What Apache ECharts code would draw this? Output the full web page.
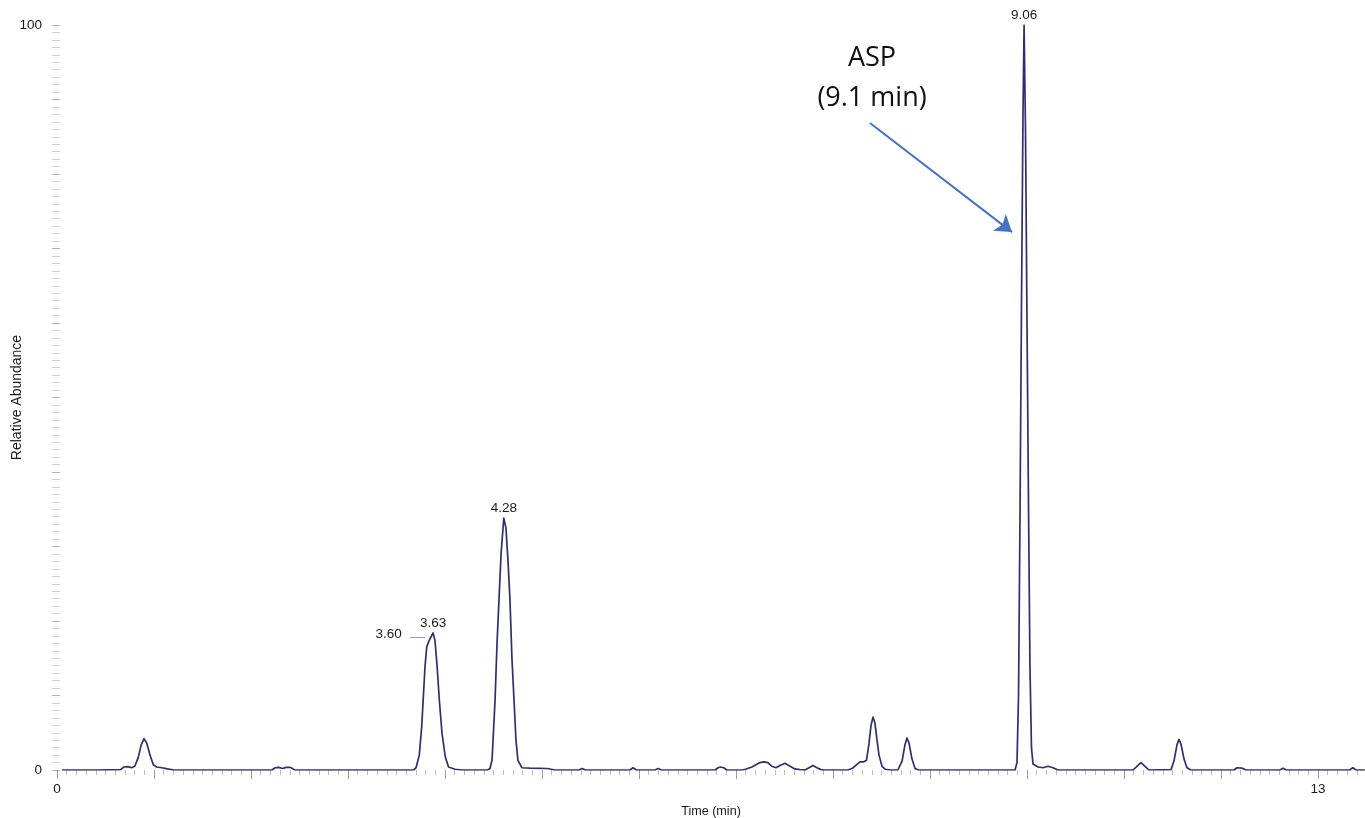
<!DOCTYPE html>
<html>
<head>
<meta charset="utf-8">
<title>Chromatogram</title>
<script src="https://cdn.jsdelivr.net/npm/echarts@6/dist/echarts.min.js"></script>
<style>
  html, body { margin: 0; padding: 0; background: #ffffff; }
  #main { width: 1365px; height: 818px; }
</style>
</head>
<body>
<div id="main"></div>
<script>
// Chromatogram trace: [retention time (min), relative abundance (%)]
const trace = [
  [0.221, 0], [0.55, 0], [0.76, 0.05], [0.79, 0.4], [0.83, 0.45], [0.86, 0.3], [0.89, 0.5],
  [0.92, 1.6], [0.95, 3.4], [0.975, 4.2], [1.00, 3.6], [1.03, 2.0], [1.06, 0.7], [1.09, 0.4],
  [1.14, 0.3], [1.19, 0.15], [1.25, 0],
  [2.15, 0], [2.18, 0.3], [2.21, 0.35], [2.25, 0.2], [2.28, 0.35], [2.32, 0.35], [2.36, 0],
  [3.45, 0], [3.474, 0.3], [3.504, 2.0], [3.526, 5.8], [3.541, 9.8], [3.556, 13.8], [3.572, 16.5],
  [3.595, 17.4], [3.63, 18.4], [3.648, 17.4], [3.668, 13.8], [3.688, 9.4], [3.712, 5.0],
  [3.742, 1.8], [3.772, 0.4], [3.832, 0.1], [3.9, 0],
  [4.13, 0], [4.153, 0.2], [4.172, 1.3], [4.20, 9.4], [4.218, 17], [4.236, 22.8], [4.255, 29],
  [4.28, 33.8], [4.30, 32.5], [4.319, 28], [4.337, 22.8], [4.355, 15], [4.374, 9.4], [4.392, 4],
  [4.41, 1.3], [4.447, 0.3], [4.52, 0.25], [4.68, 0.2], [4.75, 0],
  [4.97, 0], [5.0, 0.2], [5.03, 0], [5.44, 0], [5.467, 0.3], [5.50, 0], [5.67, 0], [5.697, 0.2], [5.73, 0],
  [6.22, 0], [6.25, 0.3], [6.27, 0.4], [6.30, 0.3], [6.33, 0],
  [6.47, 0], [6.50, 0.1], [6.56, 0.4], [6.634, 1.0], [6.67, 1.1], [6.707, 1.0], [6.743, 0.5],
  [6.78, 0.3], [6.817, 0.6], [6.864, 0.9], [6.91, 0.5], [6.955, 0.15], [7.0, 0.05],
  [7.047, 0], [7.084, 0.3], [7.121, 0.6], [7.157, 0.3], [7.194, 0.05], [7.23, 0],
  [7.44, 0], [7.48, 0.2], [7.52, 0.7], [7.552, 1.1], [7.589, 1.1], [7.612, 1.3], [7.635, 3.5],
  [7.654, 6.0], [7.672, 7.1], [7.69, 6.3], [7.709, 4.0], [7.727, 2.0], [7.755, 0.5], [7.785, 0.1], [7.83, 0],
  [7.90, 0], [7.912, 0.1], [7.939, 1.2], [7.966, 3.4], [7.984, 4.3], [8.003, 3.6], [8.03, 1.5],
  [8.058, 0.2], [8.09, 0],
  [8.977, 0], [8.995, 1.0], [9.009, 10], [9.023, 35], [9.036, 62], [9.05, 88], [9.06, 100],
  [9.073, 86], [9.087, 60], [9.101, 35], [9.114, 14], [9.128, 3], [9.142, 0.8], [9.188, 0.4],
  [9.234, 0.3], [9.28, 0.5], [9.326, 0.3], [9.372, 0],
  [10.06, 0], [10.097, 0.5], [10.134, 1.0], [10.171, 0.5], [10.207, 0],
  [10.41, 0.05], [10.437, 1.2], [10.465, 3.4], [10.483, 4.1], [10.501, 3.5], [10.529, 1.5],
  [10.556, 0.3], [10.593, 0],
  [10.989, 0], [11.016, 0.3], [11.034, 0.4], [11.062, 0.25], [11.098, 0],
  [11.41, 0], [11.44, 0.25], [11.47, 0],
  [12.05, 0], [12.08, 0.3], [12.11, 0], [12.19, 0]
];

// Labelled peaks (retention time, apex abundance)
const peakTimes = [3.63, 4.28, 9.06];
const peakHeights = [18.4, 33.8, 100];
// Shoulder label drawn to the left with a short leader
const shoulderTime = 3.60;
const shoulderHeight = 17.85;

// Axis tick labels that are printed
const xTickLabels = [0, 13];
const yTickLabels = [0, 100];

// Callout for the analyte
const calloutText = 'ASP\n(9.1 min)';
const calloutAt = [7.663, 92.9];
const arrowFrom = [7.644, 86.85];
const arrowTo = [8.949, 72.2];

const labelFont = 'Liberation Sans, Arial, sans-serif';

const peakMarks = peakTimes.map((t, i) => ({
  coord: [t, peakHeights[i]],
  symbol: 'circle',
  symbolSize: 0,
  label: {
    show: true,
    position: 'top',
    distance: 3,
    formatter: t.toFixed(2),
    color: '#1a1a1a',
    fontSize: 13.5,
    fontFamily: labelFont
  }
}));

peakMarks.push({
  coord: [shoulderTime, shoulderHeight],
  symbol: 'circle',
  symbolSize: 0,
  label: {
    show: true,
    position: 'left',
    distance: 28,
    offset: [0, -3],
    formatter: shoulderTime.toFixed(2),
    color: '#1a1a1a',
    fontSize: 13.5,
    fontFamily: labelFont
  }
});

peakMarks.push({
  coord: calloutAt,
  symbol: 'circle',
  symbolSize: 0,
  label: {
    show: true,
    position: 'inside',
    formatter: calloutText,
    color: '#111111',
    fontSize: 27,
    lineHeight: 40,
    align: 'center',
    fontFamily: 'Open Sans, Noto Sans, sans-serif'
  }
});

const chart = echarts.init(document.getElementById('main'));

chart.setOption({
  animation: false,
  backgroundColor: '#ffffff',
  grid: { left: 57, right: 0, top: 25, bottom: 48, containLabel: false, outerBoundsMode: 'none' },
  xAxis: [
    {
      // printed time scale
      type: 'value',
      min: 0,
      max: 13.485,
      interval: 1,
      axisLine: { show: false },
      axisTick: { show: true, length: 9, lineStyle: { color: '#9c9c9c', width: 1 } },
      minorTick: { show: true, splitNumber: 10, length: 5, lineStyle: { color: '#bdbdbd', width: 1 } },
      splitLine: { show: false },
      minorSplitLine: { show: false },
      axisLabel: {
        margin: 12,
        color: '#1a1a1a',
        fontSize: 13.5,
        fontFamily: labelFont,
        formatter: v => (xTickLabels.indexOf(v) >= 0 ? String(v) : '')
      },
      name: 'Time (min)',
      nameLocation: 'middle',
      nameGap: 35,
      nameMoveOverlap: false,
      nameTextStyle: { color: '#1a1a1a', fontSize: 12.6, fontFamily: labelFont }
    },
    {
      // retention time scale used by the trace
      type: 'value',
      min: 0.1755,
      max: 12.192,
      show: false
    }
  ],
  yAxis: {
    type: 'value',
    min: 0,
    max: 100,
    interval: 10,
    offset: -3,
    axisLine: { show: false },
    axisTick: { show: true, length: 8, lineStyle: { color: '#b4b4b4', width: 1 } },
    minorTick: { show: true, splitNumber: 10, length: 8, lineStyle: { color: '#d2d2d2', width: 1 } },
    splitLine: { show: false },
    minorSplitLine: { show: false },
    axisLabel: {
      margin: 18,
      color: '#1a1a1a',
      fontSize: 13.5,
      fontFamily: labelFont,
      formatter: v => (yTickLabels.indexOf(v) >= 0 ? String(v) : '')
    },
    name: 'Relative Abundance',
    nameLocation: 'middle',
    nameGap: 36,
    nameMoveOverlap: false,
    nameRotate: 90,
    nameTextStyle: { color: '#1a1a1a', fontSize: 14, fontFamily: labelFont }
  },
  series: [
    {
      type: 'line',
      xAxisIndex: 1,
      yAxisIndex: 0,
      data: trace,
      showSymbol: false,
      symbol: 'none',
      smooth: false,
      lineStyle: { color: '#2f2f70', width: 1.7, join: 'round' },
      markPoint: {
        silent: true,
        data: peakMarks
      },
      markLine: {
        silent: true,
        animation: false,
        label: { show: false },
        emphasis: { disabled: true },
        data: [
          [
            { coord: arrowFrom, symbol: 'none', lineStyle: { color: '#4472C4', width: 2, type: 'solid' } },
            { coord: arrowTo, symbol: 'arrow', symbolSize: 16 }
          ],
          [
            { coord: [3.418, shoulderHeight], symbol: 'none', lineStyle: { color: '#9a9a9a', width: 1, type: 'solid' } },
            { coord: [3.556, shoulderHeight], symbol: 'none' }
          ]
        ]
      }
    }
  ]
});
</script>
</body>
</html>
